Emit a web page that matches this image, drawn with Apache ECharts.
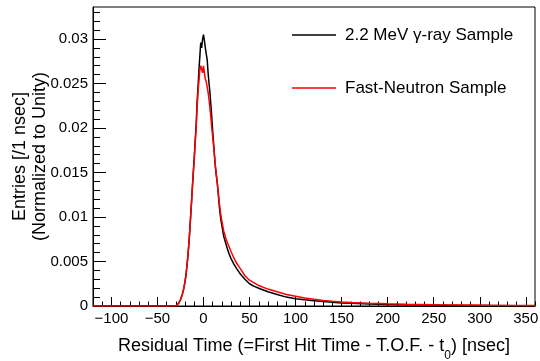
<!DOCTYPE html>
<html><head><meta charset="utf-8">
<script src="https://cdn.jsdelivr.net/npm/echarts@6/dist/echarts.min.js"></script>
<style>html,body{margin:0;padding:0;background:#fff}#c{width:540px;height:361px}</style>
</head><body><div id="c"></div>
<script>
// Bin centres (nsec)
const timeNs = [-120,-30,
 -29,-28,-27,-26,-25,-24,-23,-22,-21,-20,
 -19,-18,-17,-16,-15,-14,-13,-12,-11,-10,
 -9,-8,-7,-6,-5,-4,-3,-2,-1,0,
 1,2,3,4,5,6,7,8,9,10,
 11,12,13,14,15,16,17,18,19,20,
 22,24,26,28,30,33,36,40,45,50,55,60,
 70,80,90,100,110,120,130,140,150,160,
 180,200,220,250,280,310,340,360];
// 2.2 MeV gamma-ray sample
const gammaVals = [0,0,
 0.0001,0.0002,0.0003,0.0005,0.0007,0.0010,0.0013,0.0017,0.0022,0.0028,
 0.0035,0.0045,0.0055,0.0068,0.0083,0.0100,0.0117,0.0135,0.0152,0.0168,
 0.0186,0.0203,0.0228,0.0245,0.0265,0.0280,0.0296,0.0290,0.0300,0.0305,
 0.0298,0.0290,0.0283,0.0277,0.0262,0.0250,0.0240,0.0226,0.0212,0.0196,
 0.0182,0.0168,0.0155,0.0146,0.0138,0.0126,0.0114,0.0104,0.0096,0.0090,
 0.0078,0.0071,0.0064,0.0058,0.0053,0.0047,0.0042,0.0036,0.0030,0.0025,0.0022,0.0020,
 0.0016,0.0013,0.0010,0.00082,0.00070,0.00060,0.00050,0.00042,0.00035,0.00030,
 0.00023,0.00018,0.00014,0.00010,0.00007,0.00005,0.00003,0.00002];
// Fast-neutron sample
const neutronVals = [0,0,
 0.0001,0.0002,0.0003,0.0005,0.0007,0.0010,0.0013,0.0017,0.0022,0.0028,
 0.0035,0.0045,0.0056,0.0069,0.0084,0.0100,0.0117,0.0134,0.0150,0.0166,
 0.0183,0.0200,0.0222,0.0240,0.0252,0.0265,0.0270,0.0271,0.0262,0.0270,
 0.0262,0.0255,0.0252,0.0252,0.0240,0.0232,0.0222,0.0212,0.0200,0.0190,
 0.0179,0.0168,0.0157,0.0147,0.0138,0.0128,0.0118,0.0109,0.0101,0.0095,
 0.0084,0.0077,0.0071,0.0066,0.0061,0.0054,0.0048,0.0042,0.0034,0.0029,0.0026,0.0023,
 0.0019,0.0016,0.0013,0.0011,0.0009,0.00075,0.00063,0.00053,0.00045,0.00038,
 0.00030,0.00024,0.00020,0.00015,0.00011,0.00008,0.00006,0.00005];
const seriesNames = ['2.2 MeV \u03b3-ray Sample', 'Fast-Neutron Sample'];
const xMajorTicks = [-100,-50,0,50,100,150,200,250,300,350];
const xMinorTicks = [-120,-110,-90,-80,-70,-60,-40,-30,-20,-10,10,20,30,40,60,70,80,90,110,120,130,140,160,170,180,190,210,220,230,240,260,270,280,290,310,320,330,340,360];
const yMajorTicks = [0,0.005,0.01,0.015,0.02,0.025,0.03];
const yMinorTicks = [0.001,0.002,0.003,0.004,0.006,0.007,0.008,0.009,0.011,0.012,0.013,0.014,0.016,0.017,0.018,0.019,0.021,0.022,0.023,0.024,0.026,0.027,0.028,0.029,0.031,0.032,0.033];
const xRange = [-120, 360];
const yRange = [0, 0.0336];

const FONT = '"Liberation Sans", Arial, Helvetica, sans-serif';
const chart = echarts.init(document.getElementById('c'), null, {renderer: 'canvas'});
function xAx(major) {
  return {
    type: 'value', min: xRange[0], max: xRange[1], position: 'bottom',
    axisLine: {show: major, onZero: false, lineStyle: {color: '#000', width: 1}},
    axisTick: {show: true, inside: true, length: major ? 9 : 4.5, customValues: major ? xMajorTicks : xMinorTicks, lineStyle: {color: '#000'}},
    axisLabel: {show: major, customValues: xMajorTicks, color: '#000', fontFamily: FONT, fontSize: 15, margin: 5,
      formatter: v => String(v).replace('-', '\u2212')},
    splitLine: {show: false},
    name: major ? '{n|Residual Time (=First Hit Time - T.O.F. - t}{s|0}{n|) [nsec]}' : '',
    nameLocation: 'middle', nameGap: 31, nameMoveOverlap: false,
    nameTextStyle: {rich: {
      n: {fontFamily: FONT, fontSize: 18, color: '#000', padding: [0,0,7,0], verticalAlign: 'bottom'},
      s: {fontFamily: FONT, fontSize: 12, color: '#000', verticalAlign: 'bottom'}
    }}
  };
}
function yAx(major) {
  return {
    type: 'value', min: yRange[0], max: yRange[1], position: 'left',
    axisLine: {show: major, onZero: false, lineStyle: {color: '#000', width: 1}},
    axisTick: {show: true, inside: true, length: major ? 13 : 7, customValues: major ? yMajorTicks : yMinorTicks, lineStyle: {color: '#000'}},
    axisLabel: {show: major, customValues: yMajorTicks, color: '#000', fontFamily: FONT, fontSize: 15, margin: 5},
    splitLine: {show: false},
    name: major ? 'Entries [/1 nsec]\n(Normalized to Unity)' : '',
    nameLocation: 'middle', nameRotate: 90, nameGap: 43, nameMoveOverlap: false,
    nameTextStyle: {fontFamily: FONT, fontSize: 18, color: '#000', lineHeight: 20}
  };
}
chart.setOption({
  animation: false,
  backgroundColor: '#fff',
  grid: {left: 93, right: 5, top: 7, bottom: 55, show: true, borderColor: '#000', borderWidth: 1,
         containLabel: false, outerBoundsMode: 'none'},
  xAxis: [xAx(true), xAx(false)],
  yAxis: [yAx(true), yAx(false)],
  legend: {
    orient: 'vertical', left: 292, top: 26, padding: 0, itemGap: 35, itemWidth: 44, itemHeight: 1.5,
    icon: 'rect',
    textStyle: {fontFamily: FONT, fontSize: 17, color: '#000', lineHeight: 18, padding: [0,0,0,4]},
    data: seriesNames
  },
  series: [
    {name: seriesNames[0], type: 'line', xAxisIndex: 0, yAxisIndex: 0, showSymbol: false,
     lineStyle: {color: '#000', width: 1.5}, itemStyle: {color: '#000'},
     data: timeNs.map((t, i) => [t, gammaVals[i]])},
    {name: seriesNames[1], type: 'line', xAxisIndex: 0, yAxisIndex: 0, showSymbol: false,
     lineStyle: {color: '#ff0000', width: 1.5}, itemStyle: {color: '#ff0000'},
     data: timeNs.map((t, i) => [t, neutronVals[i]])}
  ]
});
</script>
</body></html>
